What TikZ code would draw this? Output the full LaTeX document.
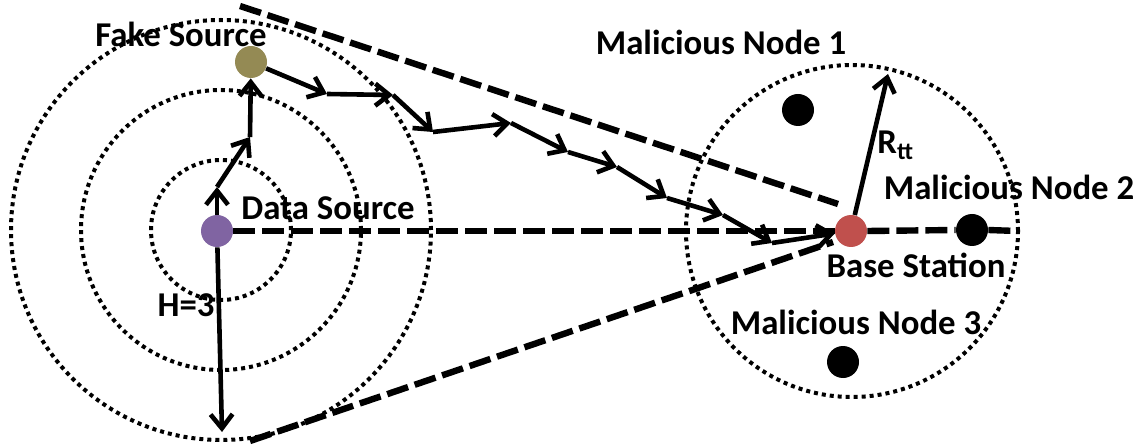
\documentclass[tikz,border=0pt]{standalone}
\usepackage{fontspec}
\setmainfont{Carlito}
\usetikzlibrary{arrows.meta}
\definecolor{dscol}{HTML}{8064A2}
\definecolor{fscol}{HTML}{948A54}
\definecolor{bscol}{HTML}{C0504D}
\tikzset{
  dot/.style={circle, minimum size=16pt, inner sep=0pt, draw=none},
  arr/.style={line width=2.3pt, -{Straight Barb[length=7pt,width=11pt]}},
  hdash/.style={line width=3.2pt, dash pattern=on 11pt off 3.5pt},
  ring/.style={line width=2pt, dash pattern=on 2pt off 2pt},
  lbl/.style={font=\fontsize{17.4pt}{20pt}\selectfont\bfseries, inner sep=0pt, anchor=base}
}
\begin{document}
\begin{tikzpicture}[x=0.5pt,y=-0.5pt]
\useasboundingbox (0,0) rectangle (1144,448);
% centres of the rings
\coordinate (lc) at (221,230);
\coordinate (rc) at (852,231);
\draw[ring] (lc) circle[radius=35pt];
\draw[ring] (lc) circle[radius=70pt];
\draw[ring] (lc) circle[radius=105pt];
\draw[ring] (rc) circle[radius=83pt];
% nodes
\node[dot, fill=dscol] (ds) at (217,231) {};
\node[dot, fill=fscol] (fs) at (251,62) {};
\node[dot, fill=bscol] (bs) at (851,231) {};
\node[dot, fill=black] (m1) at (798,110) {};
\node[dot, fill=black] (m2) at (972,230) {};
\node[dot, fill=black] (m3) at (843,362) {};
% dashed lines
\coordinate (dt1) at (240,6);
\coordinate (dt2) at (838,204);
\coordinate (db1) at (250,441);
\coordinate (db2) at (833,242);
\coordinate (dh) at (1017,231);
\draw[hdash] (dt1) -- (dt2);
\draw[hdash] (db1) -- (db2);
\draw[hdash] (ds.east) -- (bs.west);
\draw[hdash] (bs.east) -- (m2.west);
\draw[hdash] (m2.east) -- (dh);
% route coordinates
\coordinate (a1) at (217,187);
\coordinate (a2) at (250,137);
\coordinate (p1) at (327,94);
\coordinate (p2) at (393,95);
\coordinate (p3) at (433,132);
\coordinate (p4) at (511,123);
\coordinate (p5) at (568,152);
\coordinate (p6) at (617,167);
\coordinate (p7) at (667,198);
\coordinate (p8) at (723,215);
\coordinate (p9) at (772,243);
\coordinate (hb) at (222,432);
\coordinate (rt) at (888,74);
\draw[arr] (ds) -- (a1);
\draw[arr] (a1) -- (a2);
\draw[arr] (a2) -- (fs);
\draw[arr] (fs) -- (p1);
\draw[arr] (p1) -- (p2);
\draw[arr] (p2) -- (p3);
\draw[arr] (p3) -- (p4);
\draw[arr] (p4) -- (p5);
\draw[arr] (p5) -- (p6);
\draw[arr] (p6) -- (p7);
\draw[arr] (p7) -- (p8);
\draw[arr] (p8) -- (p9);
\draw[arr] (p9) -- (bs);
\draw[arr] (ds) -- (hb);
\draw[arr] (bs) -- (rt);
% labels
\node[lbl] (lfs) at (181,47) {Fake Source};
\node[lbl] (lds) at (328,220) {Data Source};
\node[lbl] (lh) at (186,317) {H=3};
\node[lbl] (lm1) at (721,55) {Malicious Node 1};
\node[lbl] (lm2) at (1009,200) {Malicious Node 2};
\node[lbl] (lbs) at (916,278) {Base Station};
\node[lbl] (lm3) at (856,335) {Malicious Node 3};
\node[lbl, anchor=base west] (lr) at (877,154) {R\textsubscript{tt}};
\end{tikzpicture}
\end{document}
